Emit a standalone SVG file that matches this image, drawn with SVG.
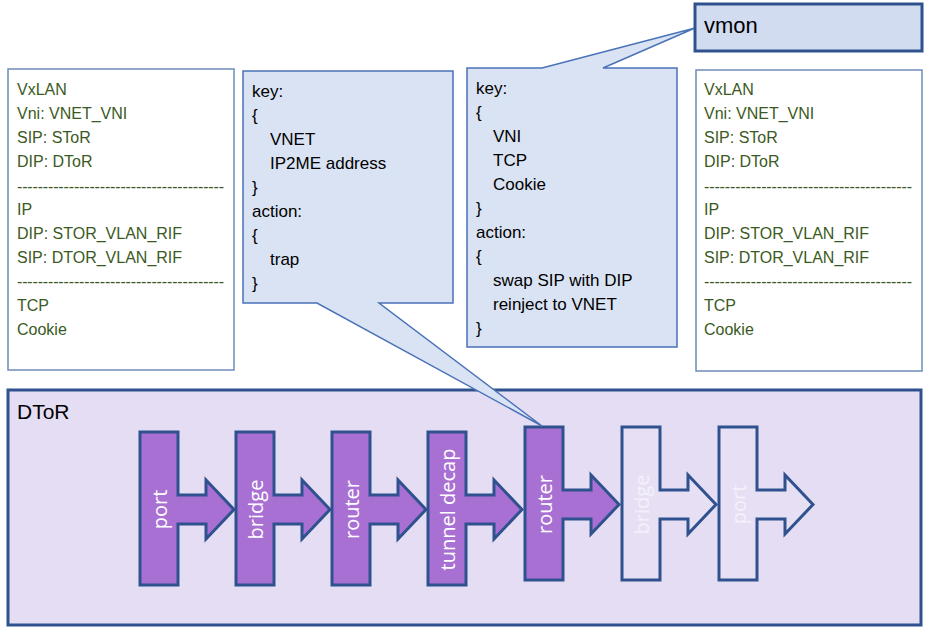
<svg xmlns="http://www.w3.org/2000/svg" width="931" height="637" viewBox="0 0 931 637">
<defs>
<style>
.bg{fill:#ffffff}
.txtbox{fill:#ffffff;stroke:#6e8cba;stroke-width:1.5}
.g{font-family:"Liberation Sans",Arial,sans-serif;font-size:16px;fill:#3b5a23}
.callout{fill:#dae3f3;stroke:#4a72b8;stroke-width:1.5;stroke-linejoin:miter}
.k{font-family:"Liberation Sans",Arial,sans-serif;font-size:17px;fill:#000000}
.vmon{fill:#d2dcf0;stroke:#2f528f;stroke-width:3}
.dtor{fill:#e5ddf3;stroke:#2f528f;stroke-width:3}
.big{font-family:"Liberation Sans",Arial,sans-serif;font-size:21px;fill:#000000}
.stage{stroke:#2f528f;stroke-width:3;stroke-linejoin:miter}
.on{fill:#a970d3}
.off{fill:#e7e0f4}
.lbl{font-family:"Open Sans","Noto Sans",sans-serif;font-size:20px;text-anchor:middle;dominant-baseline:central}
.lon{fill:#ffffff}
.loff{fill:#f4f1fa}
</style>
<path id="stg" d="M0,0 h38 v63 h28 v-15 l28,29.5 l-28,29.5 v-15 h-28 v61 h-38 z"/>
</defs>
<rect class="bg" x="0" y="0" width="931" height="637"/>

<g id="left-packet">
<rect class="txtbox" x="8" y="69" width="226" height="301"/>
<text class="g" x="17" y="95">VxLAN</text>
<text class="g" x="17" y="119">Vni: VNET_VNI</text>
<text class="g" x="17" y="143">SIP: SToR</text>
<text class="g" x="17" y="167">DIP: DToR</text>
<text class="g" x="17" y="192" textLength="207" lengthAdjust="spacing">----------------------------------------</text>
<text class="g" x="17" y="215">IP</text>
<text class="g" x="17" y="239">DIP: STOR_VLAN_RIF</text>
<text class="g" x="17" y="263">SIP: DTOR_VLAN_RIF</text>
<text class="g" x="17" y="287" textLength="207" lengthAdjust="spacing">----------------------------------------</text>
<text class="g" x="17" y="311">TCP</text>
<text class="g" x="17" y="335">Cookie</text>
</g>

<g id="right-packet">
<rect class="txtbox" x="696" y="70" width="226" height="301"/>
<text class="g" x="704" y="95">VxLAN</text>
<text class="g" x="704" y="119">Vni: VNET_VNI</text>
<text class="g" x="704" y="143">SIP: SToR</text>
<text class="g" x="704" y="167">DIP: DToR</text>
<text class="g" x="704" y="192" textLength="208" lengthAdjust="spacing">----------------------------------------</text>
<text class="g" x="704" y="215">IP</text>
<text class="g" x="704" y="239">DIP: STOR_VLAN_RIF</text>
<text class="g" x="704" y="263">SIP: DTOR_VLAN_RIF</text>
<text class="g" x="704" y="287" textLength="208" lengthAdjust="spacing">----------------------------------------</text>
<text class="g" x="704" y="311">TCP</text>
<text class="g" x="704" y="335">Cookie</text>
</g>

<g id="dtor">
<rect class="dtor" x="8" y="390" width="913" height="235"/>
<text class="big" x="17" y="419">DToR</text>
</g>

<g id="pipeline">
<g id="stage-port-in">
<use href="#stg" class="stage on" x="140" y="432"/>
<text class="lbl lon" transform="translate(159,509.5) rotate(-90)">port</text>
</g>
<g id="stage-bridge-in">
<use href="#stg" class="stage on" x="236" y="432"/>
<text class="lbl lon" transform="translate(255,509.5) rotate(-90)">bridge</text>
</g>
<g id="stage-router-in">
<use href="#stg" class="stage on" x="332" y="432"/>
<text class="lbl lon" transform="translate(351,509.5) rotate(-90)">router</text>
</g>
<g id="stage-tunnel-decap">
<use href="#stg" class="stage on" x="428" y="432"/>
<text class="lbl lon" transform="translate(447,509.5) rotate(-90)">tunnel decap</text>
</g>
<g id="stage-router-out">
<use href="#stg" class="stage on" x="525" y="427"/>
<text class="lbl lon" transform="translate(544,504.5) rotate(-90)">router</text>
</g>
<g id="stage-bridge-out">
<use href="#stg" class="stage off" x="622" y="427"/>
<text class="lbl loff" transform="translate(641,504.5) rotate(-90)">bridge</text>
</g>
<g id="stage-port-out">
<use href="#stg" class="stage off" x="719" y="427"/>
<text class="lbl loff" transform="translate(738,504.5) rotate(-90)">port</text>
</g>
</g>

<g id="connectors"></g>

<g id="callout-trap">
<path class="callout" d="M243,71 H453 V303 H379 L542,426 L317,303 H243 Z"/>
<text class="k" x="252" y="97">key:</text>
<text class="k" x="252" y="121">{</text>
<text class="k" x="270" y="145">VNET</text>
<text class="k" x="270" y="169">IP2ME address</text>
<text class="k" x="252" y="193">}</text>
<text class="k" x="252" y="217">action:</text>
<text class="k" x="252" y="241">{</text>
<text class="k" x="270" y="265">trap</text>
<text class="k" x="252" y="289">}</text>
</g>

<g id="callout-reinject">
<path class="callout" d="M467,68 H542 L695,28 L603,68 H677 V347 H467 Z"/>
<text class="k" x="476" y="94">key:</text>
<text class="k" x="476" y="118">{</text>
<text class="k" x="493" y="142">VNI</text>
<text class="k" x="493" y="166">TCP</text>
<text class="k" x="493" y="190">Cookie</text>
<text class="k" x="476" y="214">}</text>
<text class="k" x="476" y="238">action:</text>
<text class="k" x="476" y="262">{</text>
<text class="k" x="493" y="286">swap SIP with DIP</text>
<text class="k" x="493" y="310">reinject to VNET</text>
<text class="k" x="476" y="334">}</text>
</g>

<g id="vmon">
<rect class="vmon" x="695" y="4" width="227" height="47"/>
<text class="big" x="704" y="33" style="font-size:22px">vmon</text>
</g>
</svg>
